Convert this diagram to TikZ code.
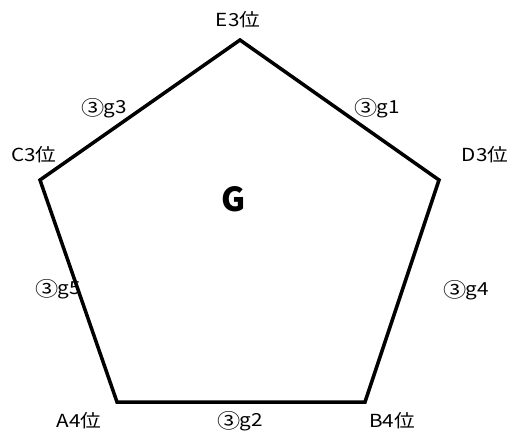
\documentclass[tikz,border=0pt]{standalone}
\usepackage{fontspec}
\setmainfont{Noto Sans CJK JP}
\newfontfamily\jp{Noto Sans CJK JP}
\tikzset{
  lbl/.style={inner sep=0pt, font=\jp\fontsize{18}{20}\selectfont},
  edge/.style={line width=3.5pt, line join=miter, black},
  big/.style={inner sep=0pt, font=\jp\bfseries\fontsize{33}{36}\selectfont}
}
\newcommand{\wide}[1]{\scalebox{1.15}[1]{#1}}
\newcommand{\cthree}{\raisebox{-0.08em}{\scalebox{1.12}{③}}\kern-0.05em}
\begin{document}
\begin{tikzpicture}[x=1pt,y=-1pt]
\useasboundingbox[fill=white] (0,0) rectangle (513,439);
\coordinate (E) at (240,40);
\coordinate (D) at (439,180);
\coordinate (B) at (365,402);
\coordinate (A) at (117,402);
\coordinate (C) at (40,180);
\draw[edge] (E) -- (D) -- (B) -- (A) -- (C) -- cycle;
\node[lbl] (lE) at (238,20) {\wide{E3位}};
\node[lbl] (lD) at (485,155) {\wide{D3位}};
\node[lbl] (lC) at (34,155) {\wide{C3位}};
\node[lbl] (lA) at (79,421) {\wide{A4位}};
\node[lbl] (lB) at (392,421) {\wide{B4位}};
\node[lbl] (g3) at (104,108) {\wide{\cthree g3}};
\node[lbl] (g1) at (377,108) {\wide{\cthree g1}};
\node[lbl] (g5) at (58,289) {\wide{\cthree g5}};
\node[lbl] (g4) at (466,290) {\wide{\cthree g4}};
\node[lbl] (g2) at (240,421) {\wide{\cthree g2}};
\node[big] (G) at (234,199) {G};
\end{tikzpicture}
\end{document}
